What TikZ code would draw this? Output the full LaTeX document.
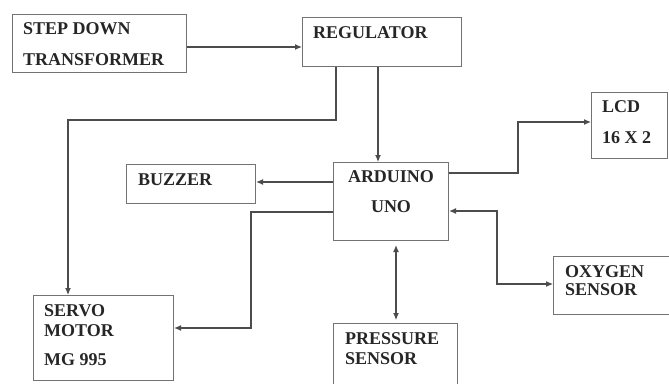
\documentclass[tikz,border=0pt]{standalone}
\usepackage{fontspec}
\setmainfont{Liberation Serif}
\usetikzlibrary{arrows.meta}
\tikzset{
  box/.style={draw=black!55, line width=1.1pt, rectangle, inner sep=0pt, anchor=north west},
  lbl/.style={inner sep=0pt, anchor=base west, text=black!85, font=\fontsize{18}{18}\selectfont\bfseries},
  clbl/.style={lbl, anchor=base},
  conn/.style={draw=black!70, line width=1.1pt},
  tip/.tip={Latex[length=7pt,width=6pt]},
  arr/.style={conn, -tip},
  darr/.style={conn, tip-tip}
}
\begin{document}
\begin{tikzpicture}[x=1pt,y=-1pt]
\useasboundingbox (0,0) rectangle (669,383);
\begin{scope}
\clip (0,0) rectangle (669,383);
% boxes
\node[box, minimum width=174pt, minimum height=58pt] (trans) at (12,14) {};
\node[box, minimum width=159pt, minimum height=49pt] (reg) at (302,17) {};
\node[box, minimum width=76pt, minimum height=66pt] (lcd) at (591,92) {};
\node[box, minimum width=115pt, minimum height=78pt] (ard) at (333,162) {};
\node[box, minimum width=129pt, minimum height=39pt] (buzz) at (126,164) {};
\node[box, minimum width=140pt, minimum height=85pt] (servo) at (33,295) {};
\node[box, minimum width=124pt, minimum height=80pt] (press) at (333,323) {};
\node[box, minimum width=130pt, minimum height=58pt] (oxy) at (553,256) {};
% labels
\node[lbl] (t1) at (23,34) {STEP DOWN};
\node[lbl] (t2) at (23,65) {TRANSFORMER};
\node[lbl] (t3) at (313,38) {REGULATOR};
\node[lbl] (t4) at (602,112) {LCD};
\node[lbl] (t5) at (602,143) {16 X 2};
\node[clbl] (t6) at (391,182) {ARDUINO};
\node[clbl] (t7) at (391,212) {UNO};
\node[lbl] (t8) at (138,185) {BUZZER};
\node[lbl] (t9) at (44,316) {SERVO};
\node[lbl] (t10) at (44,336) {MOTOR};
\node[lbl] (t11) at (44,365) {MG 995};
\node[lbl] (t12) at (345,344) {PRESSURE};
\node[lbl] (t13) at (345,364) {SENSOR};
\node[lbl] (t14) at (565,277) {OXYGEN};
\node[lbl] (t15) at (565,295) {SENSOR};
% connectors
\coordinate (c1) at (336,120);
\coordinate (c2) at (68,120);
\coordinate (c3) at (518,173);
\coordinate (c4) at (518,122);
\coordinate (c5) at (251,212);
\coordinate (c6) at (251,328);
\coordinate (c7) at (497,211);
\coordinate (c8) at (497,284);
\draw[arr] (trans.east |- 0,47) -- (reg.west |- 0,47);
\draw[arr] (reg.south -| c1) -- (c1) -- (c2) -- (servo.north -| c2);
\draw[arr] (reg.south -| 378,0) -- (ard.north -| 378,0);
\draw[arr] (ard.east |- c3) -- (c3) -- (c4) -- (lcd.west |- c4);
\draw[arr] (ard.west |- 0,182) -- (buzz.east |- 0,182);
\draw[arr] (ard.west |- c5) -- (c5) -- (c6) -- (servo.east |- c6);
\draw[darr] ([yshift=-4pt]ard.south -| 396,0) -- ([yshift=3pt]press.north -| 396,0);
\draw[darr] (ard.east |- c7) -- (c7) -- (c8) -- (oxy.west |- c8);
\end{scope}
\end{tikzpicture}
\end{document}
